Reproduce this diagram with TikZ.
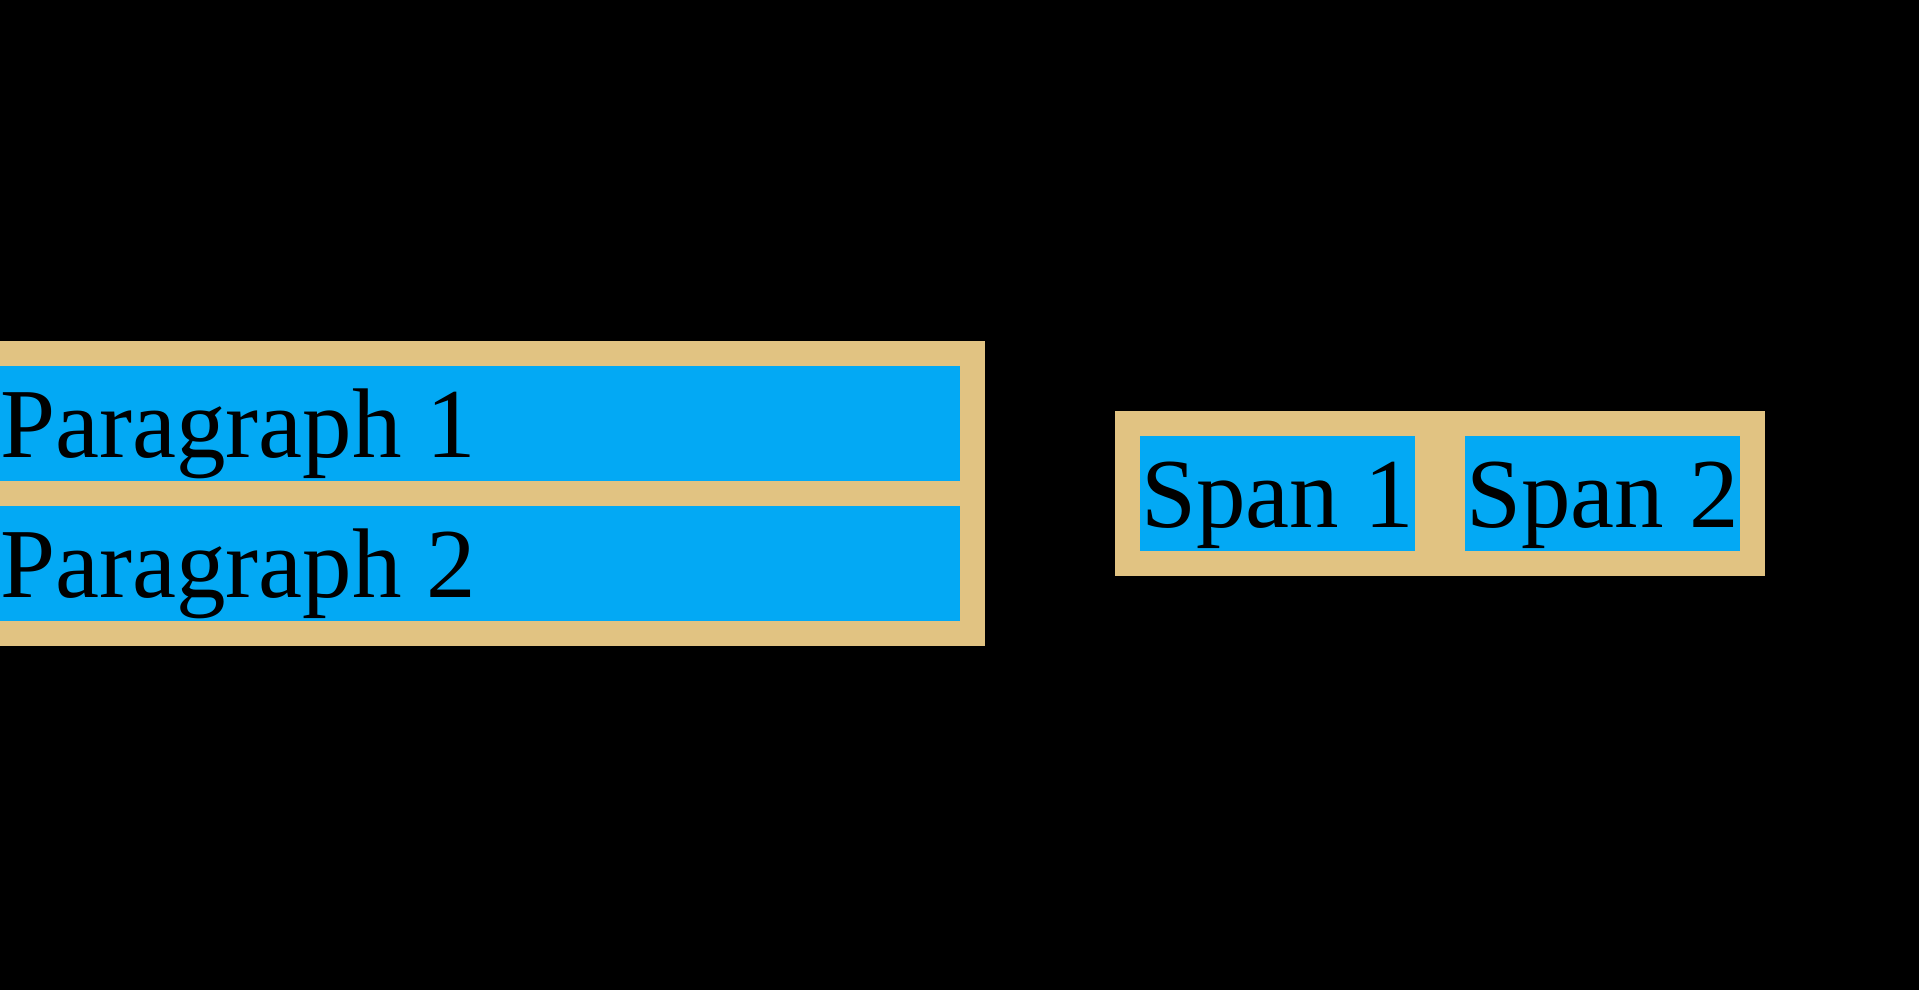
\documentclass[tikz,border=0pt]{standalone}
\usepackage{fontspec}
\setmainfont{Liberation Serif}
\definecolor{tan}{HTML}{E1C382}
\definecolor{sky}{HTML}{03A9F4}
\tikzset{
  px/.style={x={(0.5pt,0)},y={(0,-0.5pt)}},
  label text/.style={inner sep=0pt, anchor=base west, text=black, font=\fontsize{49.5}{59.4}\selectfont},
}
\begin{document}
\begin{tikzpicture}[px]
\fill[black] (0,0) rectangle (1919,990);
\useasboundingbox (0,0) rectangle (1919,990);
% left container
\fill[tan] (-25,341) rectangle (985,646);
\fill[sky] (0,366) rectangle (960,481);
\fill[sky] (0,506) rectangle (960,621);
\node[label text] (p1) at (0,457) {Paragraph 1};
\node[label text] (p2) at (0,597) {Paragraph 2};
% right container
\fill[tan] (1115,411) rectangle (1765,576);
\fill[sky] (1140,436) rectangle (1415,551);
\fill[sky] (1465,436) rectangle (1740,551);
\node[label text] (s1) at (1141,527) {Span 1};
\node[label text] (s2) at (1466,527) {Span 2};
\end{tikzpicture}
\end{document}
